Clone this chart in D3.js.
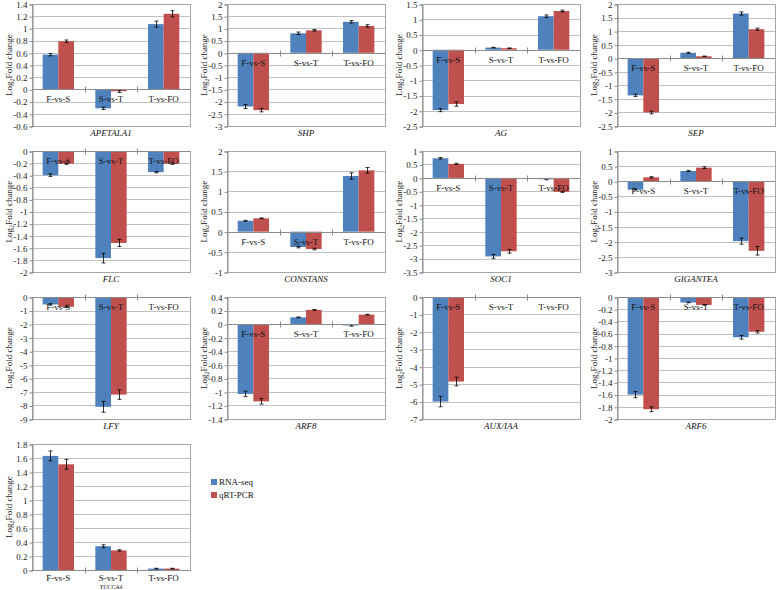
<!DOCTYPE html>
<html><head><meta charset="utf-8">
<script src="https://cdn.jsdelivr.net/npm/d3@7/dist/d3.min.js"></script>
<style>body{margin:0;background:#fff;}svg{display:block;}</style>
</head><body><svg id="c" width="778" height="590"></svg>
<script>
const categories = ["F-vs-S","S-vs-T","T-vs-FO"];
const seriesNames = ["RNA-seq","qRT-PCR"];
const genes = ["APETALA1","SHP","AG","SEP","FLC","CONSTANS","SOC1","GIGANTEA","LFY","ARF8","AUX/IAA","ARF6","YUCCA4"];
const rnaSeq = [
  [0.57,-0.31,1.07],[-2.2,0.8,1.27],[-1.98,0.07,1.1],[-1.37,0.2,1.65],
  [-0.4,-1.77,-0.35],[0.27,-0.38,1.38],[0.73,-2.92,-0.05],[-0.28,0.34,-1.98],
  [-0.55,-8.1,0],[-1.03,0.1,-0.02],[-6.0,0,0],[-1.6,-0.09,-0.66],
  [1.63,0.34,0.02]
];
const qrtPcr = [
  [0.79,-0.03,1.24],[-2.35,0.92,1.1],[-1.78,0.05,1.27],[-2.0,0.07,1.07],
  [-0.21,-1.52,-0.21],[0.33,-0.43,1.52],[0.52,-2.73,-0.52],[0.13,0.45,-2.3],
  [-0.72,-7.2,0],[-1.14,0.21,0.14],[-4.85,0,0],[-1.84,-0.13,-0.57],
  [1.51,0.28,0.02]
];
const rnaErr = [
  [0.02,0.02,0.05],[0.08,0.05,0.05],[0.05,0.01,0.04],[0.04,0.02,0.06],
  [0.02,0.08,0.01],[0.01,0.02,0.08],[0.03,0.07,0.02],[0.01,0.02,0.1],
  [0.05,0.4,0],[0.04,0.005,0.01],[0.3,0,0],[0.05,0.005,0.03],
  [0.07,0.02,0.005]
];
const qrtErr = [
  [0.02,0.02,0.05],[0.07,0.03,0.05],[0.07,0.01,0.03],[0.05,0.01,0.04],
  [0.01,0.06,0.01],[0.01,0.02,0.07],[0.02,0.07,0.02],[0.02,0.03,0.14],
  [0.05,0.35,0],[0.04,0.005,0.005],[0.25,0,0],[0.04,0.005,0.02],
  [0.07,0.01,0.005]
];
const yDomains = [
  [-0.6,1.4],[-3,2],[-2.5,1.5],[-2.5,2],
  [-2,0],[-1,2],[-3.5,1],[-3,1],
  [-9,0],[-1.4,0.4],[-7,0],[-2,0],
  [0,1.8]
];
const ySteps = [0.2,0.5,0.5,0.5, 0.2,0.5,0.5,0.5, 1,0.2,1,0.2, 0.2];

const colors = ["#4F81BD","#C0504D"];
const font = "'Liberation Serif','Times New Roman',serif";
const svg = d3.select("#c");

const colX = [0,195,390,585];
const rowTop = [4,151,297,444];
const rowH = [122,121,122,126];

genes.forEach((g,i)=>{
  const col = i%4, row = Math.floor(i/4);
  const x0 = colX[col]+32, x1 = colX[col]+190;
  const y0 = rowTop[row], y1 = rowTop[row]+rowH[row];
  const gp = svg.append("g");
  const [dmin,dmax] = yDomains[i];
  const y = d3.scaleLinear().domain([dmin,dmax]).range([y1,y0]);
  const x = d3.scaleBand().domain(categories).range([x0,x1]);
  const xs = d3.scaleBand().domain(seriesNames).range([0,x.bandwidth()]).paddingOuter(0.68).paddingInner(0);
  const n = Math.round((dmax-dmin)/ySteps[i]);
  const ticks = d3.range(n+1).map(k=>Math.round((dmin+k*ySteps[i])*100)/100);
  gp.selectAll("line.grid").data(ticks).join("line")
    .attr("x1",x0).attr("x2",x1).attr("y1",d=>Math.round(y(d))+0.5).attr("y2",d=>Math.round(y(d))+0.5)
    .attr("stroke","#c0c0c0").attr("stroke-width",1);
  gp.append("rect").attr("x",x0+0.5).attr("y",Math.round(y0)+0.5).attr("width",x1-x0).attr("height",Math.round(y1)-Math.round(y0))
    .attr("fill","none").attr("stroke","#a6a6a6");
  const ya = d3.axisLeft(y).tickValues(ticks).tickSize(3).tickPadding(2).tickFormat(d=>String(d));
  const yg = gp.append("g").attr("transform",`translate(${x0+0.5},0.5)`).call(ya);
  yg.select(".domain").attr("stroke","#8c8c8c");
  yg.selectAll(".tick line").attr("stroke","#8c8c8c");
  yg.selectAll("text").attr("font-family",font).attr("font-size",9).attr("fill","#222");
  const data = [];
  categories.forEach((c,j)=>{
    data.push({c,s:seriesNames[0],v:rnaSeq[i][j],e:rnaErr[i][j],col:colors[0]});
    data.push({c,s:seriesNames[1],v:qrtPcr[i][j],e:qrtErr[i][j],col:colors[1]});
  });
  gp.selectAll("rect.bar").data(data).join("rect")
    .attr("x",d=>x(d.c)+xs(d.s)).attr("width",xs.bandwidth())
    .attr("y",d=>Math.min(y(d.v),y(0))).attr("height",d=>Math.abs(y(d.v)-y(0)))
    .attr("fill",d=>d.col);
  const eb = data.filter(d=>d.v!==0);
  eb.forEach(d=>{
    const cx = Math.round(x(d.c)+xs(d.s)+xs.bandwidth()/2)+0.5;
    const ya1 = y(d.v-d.e), ya2 = y(d.v+d.e);
    gp.append("line").attr("x1",cx).attr("x2",cx).attr("y1",ya1).attr("y2",ya2).attr("stroke","#000").attr("stroke-width",0.8);
    [ya1,ya2].forEach(yy=>gp.append("line").attr("x1",cx-2).attr("x2",cx+2).attr("y1",yy).attr("y2",yy).attr("stroke","#000").attr("stroke-width",0.8));
  });
  const yz = Math.round(y(0))+0.5;
  gp.append("line").attr("x1",x0).attr("x2",x1).attr("y1",yz).attr("y2",yz).attr("stroke","#8c8c8c");
  [1,2].forEach(k=>{
    const tx = Math.round(x0+k*x.step())+0.5;
    gp.append("line").attr("x1",tx).attr("x2",tx).attr("y1",yz-3).attr("y2",yz+3).attr("stroke","#8c8c8c");
  });
  gp.selectAll("text.cat").data(categories).join("text")
    .attr("x",d=>x(d)+x.bandwidth()/2).attr("y",row===3? yz+10 : yz+12)
    .attr("text-anchor","middle").attr("font-family",font).attr("font-size",9).attr("fill","#111")
    .text(d=>d);
  gp.append("text").attr("x",(x0+x1)/2).attr("y",row===3? 589 : y1+10)
    .attr("text-anchor","middle").attr("font-family",font).attr("font-style","italic")
    .attr("font-size",row===3?6:9).attr("fill","#111").text(g);
  const lt = gp.append("text").attr("transform",`translate(${colX[col]+12},${(y0+y1)/2}) rotate(-90)`)
    .attr("text-anchor","middle").attr("font-family",font).attr("font-size",9).attr("fill","#222");
  lt.append("tspan").text("Log");
  lt.append("tspan").attr("font-size",6).attr("dy",2).text("2");
  lt.append("tspan").attr("dy",-2).text("Fold change");
});

const lg = svg.append("g").attr("transform","translate(211,479)");
seriesNames.forEach((s,k)=>{
  lg.append("rect").attr("x",0).attr("y",k*13).attr("width",6).attr("height",6).attr("fill",colors[k]);
  lg.append("text").attr("x",8).attr("y",k*13+6).attr("font-family",font).attr("font-size",9).attr("fill","#111").text(s);
});
</script></body></html>
